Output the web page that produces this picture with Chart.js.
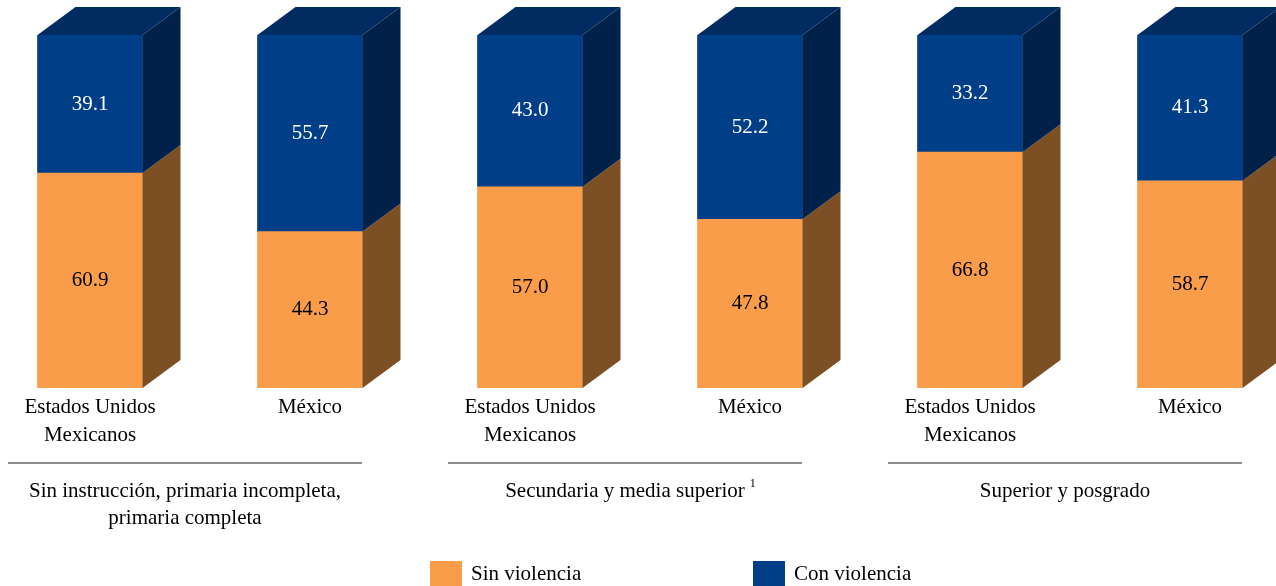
<!DOCTYPE html>
<html>
<head>
<meta charset="utf-8">
<script src="https://cdn.jsdelivr.net/npm/chart.js@4/dist/chart.umd.min.js"></script>
<style>
  html, body { margin: 0; padding: 0; background: #fff; overflow: hidden; }
  #wrap { position: absolute; left: -20px; top: 0; width: 1320px; height: 586px; }
</style>
</head>
<body>
<div id="wrap"><canvas id="grafica" width="1320" height="586"></canvas></div>
<script>
// ---------- Datos ----------

const categorias = [
    ["Estados Unidos", "Mexicanos"], ["México"],
    ["Estados Unidos", "Mexicanos"], ["México"],
    ["Estados Unidos", "Mexicanos"], ["México"]
];

const sinViolencia = [60.9, 44.3, 57.0, 47.8, 66.8, 58.7];
const conViolencia = [39.1, 55.7, 43.0, 52.2, 33.2, 41.3];

const grupos = [
    ["Sin instrucción, primaria incompleta,", "primaria completa"],
    ["Secundaria y media superior"],
    ["Superior y posgrado"]
];
const notasGrupo = ["", "1", ""];

const series = ["Sin violencia", "Con violencia"];

// ---------- Colores ----------

const naranja = "#fa9d4a", naranjaLado = "#7c4f25";
const azul = "#003e87", azulLado = "#00214a", azulTapa = "#002c62";
const FUENTE = '"Liberation Serif", "Times New Roman", serif';

// profundidad del efecto 3D
const DX = 38, DY = 28;

const tresD = {
    id: "tresD",
    afterDatasetsDraw(chart) {
        const ctx = chart.ctx;
        const lados = [naranjaLado, azulLado];
        chart.data.datasets.forEach((ds, d) => {
            const meta = chart.getDatasetMeta(d);
            meta.data.forEach((el, i) => {
                const p = el.getProps(["x", "y", "base", "width"], true);
                const l = p.x - p.width / 2, r = p.x + p.width / 2;

                // cara lateral
                ctx.fillStyle = lados[d];
                ctx.beginPath();
                ctx.moveTo(r, p.y);
                ctx.lineTo(r + DX, p.y - DY);
                ctx.lineTo(r + DX, p.base - DY);
                ctx.lineTo(r, p.base);
                ctx.closePath();
                ctx.fill();

                // tapa superior
                if (d === chart.data.datasets.length - 1) {
                    ctx.fillStyle = azulTapa;
                    ctx.beginPath();
                    ctx.moveTo(l, p.y);
                    ctx.lineTo(r, p.y);
                    ctx.lineTo(r + DX, p.y - DY);
                    ctx.lineTo(l + DX, p.y - DY);
                    ctx.closePath();
                    ctx.fill();
                }

                // valor
                ctx.font = "21px " + FUENTE;
                ctx.textAlign = "center";
                ctx.textBaseline = "middle";
                ctx.fillStyle = d === 0 ? "#000" : "#fff";
                ctx.fillText(ds.data[i].toFixed(1), p.x, (p.y + p.base) / 2);
            });
        });
    },
    afterDraw(chart) {
        const ctx = chart.ctx;
        const xs = chart.scales.x;
        ctx.save();
        ctx.font = "21px " + FUENTE;
        ctx.textAlign = "center";
        ctx.textBaseline = "middle";
        ctx.fillStyle = "#000";

        // etiquetas de categorías
        categorias.forEach((lab, i) => {
            const cx = xs.getPixelForValue(i);
            lab.forEach((t, k) => ctx.fillText(t, cx, 407 + k * 28));
        });

        // grupos
        grupos.forEach((g, j) => {
            const x1 = xs.getPixelForValue(2 * j) - 82;
            const x2 = xs.getPixelForValue(2 * j + 1) + 52;
            ctx.strokeStyle = "#666";
            ctx.lineWidth = 1.5;
            ctx.beginPath();
            ctx.moveTo(x1, 463);
            ctx.lineTo(x2, 463);
            ctx.stroke();

            const cx = (x1 + x2) / 2;
            ctx.font = "21px " + FUENTE;
            ctx.textAlign = "center";
            g.forEach((t, k) => ctx.fillText(t, cx, 491 + k * 27));
            if (notasGrupo[j]) {
                const w = ctx.measureText(g[0]).width;
                ctx.font = "12px " + FUENTE;
                ctx.textAlign = "left";
                ctx.fillText(notasGrupo[j], cx + w / 2 + 5, 484);
            }
        });

        // leyenda
        const colores = [naranja, azul];
        const posX = [450, 773];
        ctx.font = "21px " + FUENTE;
        ctx.textAlign = "left";
        series.forEach((s, k) => {
            ctx.fillStyle = colores[k];
            ctx.fillRect(posX[k], 561, 32, 26);
            ctx.fillStyle = "#000";
            ctx.fillText(s, posX[k] + 41, 574);
        });
        ctx.restore();
    }
};

new Chart(document.getElementById("grafica"), {
    type: "bar",
    data: {
        labels: categorias,
        datasets: [
            { label: series[0], data: sinViolencia, backgroundColor: naranja, borderWidth: 0, barThickness: 105 },
            { label: series[1], data: conViolencia, backgroundColor: azul, borderWidth: 0, barThickness: 105 }
        ]
    },
    options: {
        responsive: false,
        animation: false,
        devicePixelRatio: 1,
        layout: { padding: { top: 35, bottom: 198, left: 0, right: 0 } },
        plugins: { legend: { display: false }, tooltip: { enabled: false } },
        scales: {
            x: { stacked: true, display: false },
            y: { stacked: true, display: false, min: 0, max: 100 }
        }
    },
    plugins: [tresD]
});
</script>
</body>
</html>
